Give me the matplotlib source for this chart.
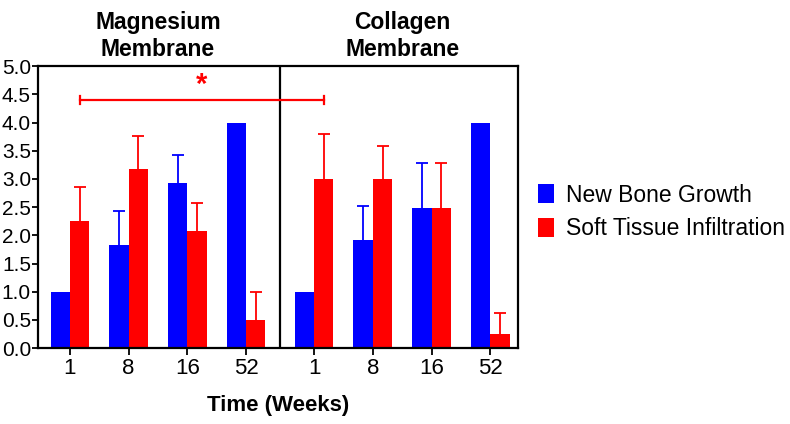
import numpy as np
import matplotlib.pyplot as plt

plt.rcParams['font.family'] = ['Liberation Sans', 'DejaVu Sans']

# data
weeks = ['1', '8', '16', '52']
mg_bone = [1.0, 1.82, 2.92, 4.0]
mg_bone_err = [0.0, 0.61, 0.50, 0.0]
mg_soft = [2.25, 3.17, 2.08, 0.5]
mg_soft_err = [0.60, 0.60, 0.50, 0.50]
col_bone = [1.0, 1.91, 2.49, 4.0]
col_bone_err = [0.0, 0.61, 0.79, 0.0]
col_soft = [3.0, 3.0, 2.49, 0.25]
col_soft_err = [0.79, 0.59, 0.79, 0.38]

blue = '#0000ff'
red = '#ff0000'
w = 0.33
gap = 4.16

x1 = np.arange(4)
x2 = x1 + gap
xs = np.concatenate([x1, x2])
bone = np.array(mg_bone + col_bone)
bone_err = np.array(mg_bone_err + col_bone_err)
soft = np.array(mg_soft + col_soft)
soft_err = np.array(mg_soft_err + col_soft_err)

fig = plt.figure(figsize=(7.9, 4.24), dpi=100)
ax = fig.add_axes([0.048, 0.179, 0.608, 0.665])


def upper_err(x, y, e, c):
    # only the upper half of the error bar, with a cap on top
    m = e > 0
    ax.vlines(x[m], y[m], y[m] + e[m], color=c, lw=1.3)
    ax.plot(x[m], y[m] + e[m], ls='none', marker='_', ms=8, mew=1.3, color=c)


b1 = ax.bar(xs - w / 2, bone, w, color=blue, label='New Bone Growth')
b2 = ax.bar(xs + w / 2, soft, w, color=red, label='Soft Tissue Infiltration')
upper_err(xs - w / 2, bone, bone_err, blue)
upper_err(xs + w / 2, soft, soft_err, red)

# divider between membranes
ax.axvline((3 + gap) / 2, color='black', lw=1.6)

# significance bracket
sx0 = x1[0] + w / 2
sx1 = x2[0] + w / 2
ax.plot([sx0, sx1], [4.4, 4.4], color=red, lw=1.6)
ax.plot([sx0, sx0], [4.33, 4.47], color=red, lw=1.6)
ax.plot([sx1, sx1], [4.33, 4.47], color=red, lw=1.6)
ax.text((sx0 + sx1) / 2, 4.42, '*', color=red, fontsize=21,
        fontweight='bold', ha='center', va='bottom')

ax.set_xlim(-0.545, x2[-1] + 0.477)
ax.set_ylim(0, 5)
ax.set_yticks(np.arange(0, 5.01, 0.5))
ax.set_yticklabels(['%.1f' % v for v in np.arange(0, 5.01, 0.5)])
ax.set_xticks(xs)
ax.set_xticklabels(weeks + weeks)
ax.tick_params(axis='x', labelsize=16, length=5, width=1.3, pad=2)
ax.tick_params(axis='y', labelsize=15, length=4, width=1.3, pad=1)
for s in ax.spines.values():
    s.set_linewidth(1.6)

ax.set_xlabel('Time (Weeks)', fontsize=16, fontweight='bold', labelpad=12)

ax.text(1.5, 5.1, 'Magnesium\nMembrane', ha='center', va='bottom',
        fontsize=16.5, fontweight='bold', linespacing=1.2)
ax.text(gap + 1.5, 5.1, 'Collagen\nMembrane', ha='center', va='bottom',
        fontsize=16.5, fontweight='bold', linespacing=1.2)

fig.legend(handles=[b1, b2], loc='center left', bbox_to_anchor=(0.655, 0.5),
           frameon=False, fontsize=16.5, handlelength=0.7, handleheight=0.9,
           handletextpad=0.5, labelspacing=0.45)

fig.savefig('out.png', dpi=100)
